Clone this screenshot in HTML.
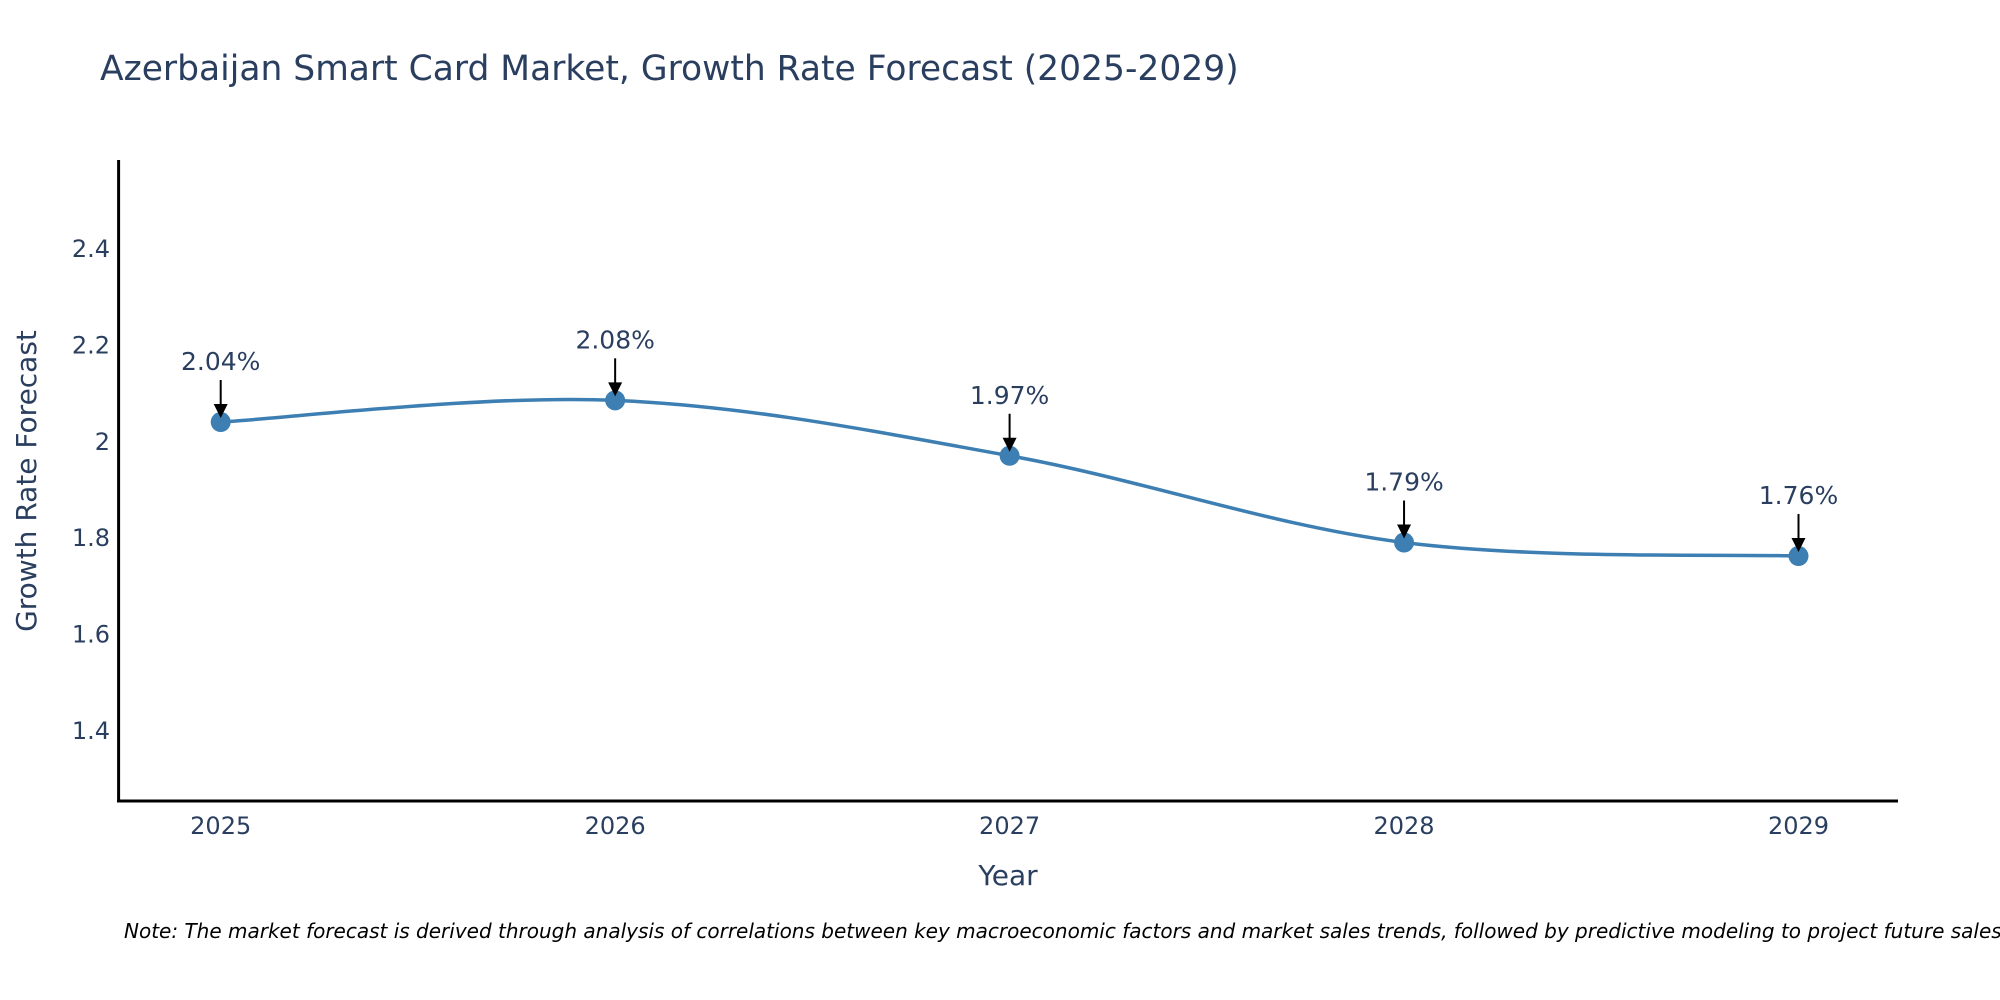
<!DOCTYPE html>
<html><head><meta charset="utf-8"><style>
html,body{margin:0;padding:0;background:#fff;}
svg{display:block;font-family:"DejaVu Sans","Liberation Sans",sans-serif;}
</style></head><body>
<svg id="chart" width="2000" height="1000" viewBox="0 0 2000 1000">
<text x="100" y="80" font-size="34.5" fill="#2a3f5f">Azerbaijan Smart Card Market, Growth Rate Forecast (2025-2029)</text>
<g id="yticks"></g>
<g id="xticks"></g>
<path id="line" fill="none" stroke="#3d7fb2" stroke-width="3.5"></path>
<g id="points"></g>
<g id="annots"></g>
<line x1="118.6" y1="160" x2="118.6" y2="802" stroke="#000" stroke-width="3"/>
<line x1="117" y1="801" x2="1898" y2="801" stroke="#000" stroke-width="3"/>
<text transform="translate(36,481) rotate(-90)" text-anchor="middle" font-size="28" fill="#2a3f5f">Growth Rate Forecast</text>
<text x="1008" y="885" text-anchor="middle" font-size="28" fill="#2a3f5f">Year</text>
<text x="124" y="938" font-size="20" font-style="italic" fill="#000">Note: The market forecast is derived through analysis of correlations between key macroeconomic factors and market sales trends, followed by predictive modeling to project future sales.</text>
</svg>
<script>
const years = [2025, 2026, 2027, 2028, 2029];
const values = [2.04, 2.085, 1.97, 1.79, 1.762];
const labels = ["2.04%", "2.08%", "1.97%", "1.79%", "1.76%"];
const yTicks = [1.4, 1.6, 1.8, 2, 2.2, 2.4];
const yTickLabels = ["1.4", "1.6", "1.8", "2", "2.2", "2.4"];

const NS = "http://www.w3.org/2000/svg";
function xs(v){ return 220.7 + (v - 2025) * 394.45; }
function ys(v){ return 441.3 - (v - 2.0) * 482; }
function mk(tag, attrs, parent){ const e = document.createElementNS(NS, tag); for (const k in attrs) e.setAttribute(k, attrs[k]); parent.appendChild(e); return e; }

const yg = document.getElementById('yticks');
yTicks.forEach((t, i) => {
  const e = mk('text', {x: 110, y: ys(t) + 8.5, 'text-anchor': 'end', 'font-size': 24, fill: '#2a3f5f'}, yg);
  
  
  e.textContent = yTickLabels[i];
});
const xg = document.getElementById('xticks');
years.forEach(y => {
  const e = mk('text', {x: xs(y), y: 834, 'text-anchor': 'middle', 'font-size': 24, fill: '#2a3f5f'}, xg);
  
  
  e.textContent = String(y);
});

const P = years.map((y, i) => [xs(y), ys(values[i])]);
let d = 'M' + P[0][0] + ',' + P[0][1];
const s = 0.17;
for (let i = 0; i < P.length - 1; i++) {
  const p0 = P[i - 1] || P[i], p1 = P[i], p2 = P[i + 1], p3 = P[i + 2] || P[i + 1];
  const c1 = [p1[0] + (p2[0] - p0[0]) * s, p1[1] + (p2[1] - p0[1]) * s];
  const c2 = [p2[0] - (p3[0] - p1[0]) * s, p2[1] - (p3[1] - p1[1]) * s];
  d += ' C' + c1 + ' ' + c2 + ' ' + p2;
}
document.getElementById('line').setAttribute('d', d);

const pg = document.getElementById('points');
const ag = document.getElementById('annots');
P.forEach((p, i) => {
  const c = mk('circle', {cx: p[0], cy: p[1], r: 10, fill: '#3d7fb2'}, pg);
  
  
  const l = mk('line', {x1: p[0], y1: p[1] - 42, x2: p[0], y2: p[1] - 14, stroke: '#000', 'stroke-width': 2}, ag);
  
  
  const h = mk('polygon', {points: (p[0]-7)+','+(p[1]-18)+' '+(p[0]+7)+','+(p[1]-18)+' '+p[0]+','+(p[1]-4), fill: '#000'}, ag);
  
  
  const t = mk('text', {x: p[0], y: p[1] - 52, 'text-anchor': 'middle', 'font-size': 25, fill: '#2a3f5f'}, ag);
  
  
  t.textContent = labels[i];
});
</script>
</body></html>
